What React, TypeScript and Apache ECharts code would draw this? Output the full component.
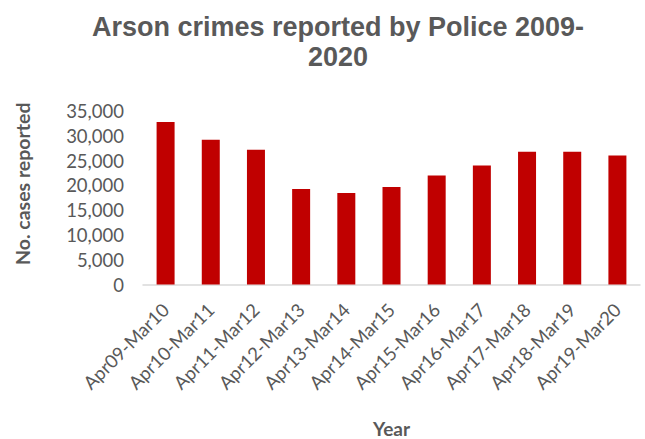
import React, { useEffect, useRef } from "react";
import * as echarts from "echarts";

const categories = [
  "Apr09-Mar10", "Apr10-Mar11", "Apr11-Mar12", "Apr12-Mar13", "Apr13-Mar14", "Apr14-Mar15",
  "Apr15-Mar16", "Apr16-Mar17", "Apr17-Mar18", "Apr18-Mar19", "Apr19-Mar20",
];
const cases = [32800, 29200, 27200, 19250, 18450, 19650, 22000, 24000, 26800, 26800, 26000];
const titleText = "Arson crimes reported by Police 2009-\n2020";
const yAxisTitle = "No. cases reported";
const xAxisTitle = "Year";

export default function App() {
  const ref = useRef<HTMLDivElement>(null);
  useEffect(() => {
    const chart = echarts.init(ref.current!, null, { renderer: "svg" });
    const grey = "#595959";
    const font = "Lato, 'Open Sans', sans-serif";
    chart.setOption({
      animation: false,
      backgroundColor: "#ffffff",
      title: {
        text: titleText,
        left: 333,
        textAlign: "center",
        top: 7,
        padding: 5,
        textStyle: {
          color: grey,
          fontFamily: "'Liberation Sans', Arial, sans-serif",
          fontWeight: "bold",
          fontSize: 27,
          lineHeight: 30,
        },
      },
      grid: { left: 143, right: 5, top: 111, bottom: 154.5, outerBoundsMode: "none", containLabel: false },
      xAxis: {
        type: "category",
        data: categories,
        name: xAxisTitle,
        nameLocation: "middle",
        nameGap: 134,
        nameTextStyle: { color: grey, fontFamily: font, fontWeight: "bold", fontSize: 19 },
        axisLine: { lineStyle: { color: "#d9d9d9", width: 1.5 } },
        axisTick: { show: false },
        axisLabel: { rotate: 45, color: grey, fontFamily: font, fontSize: 18.5, margin: 22, interval: 0 },
      },
      yAxis: {
        type: "value",
        min: 0,
        max: 35000,
        interval: 5000,
        name: yAxisTitle,
        nameLocation: "middle",
        nameGap: 111,
        nameRotate: 90,
        nameTextStyle: {
          color: grey,
          fontFamily: font,
          fontWeight: "bold",
          fontSize: 19.5,
          padding: [0, 0, 0, 28],
        },
        splitLine: { show: false },
        axisLine: { show: false },
        axisTick: { show: false },
        axisLabel: {
          color: grey,
          fontFamily: font,
          fontSize: 18.5,
          margin: 19,
          formatter: (v: number) => v.toLocaleString("en-US"),
        },
      },
      series: [
        {
          type: "bar",
          data: cases,
          barWidth: 18,
          itemStyle: { color: "#c00000" },
        },
      ],
    });
    return () => chart.dispose();
  }, []);
  return (
    <div
      ref={ref}
      style={{ position: "fixed", left: 0, top: 0, width: 645, height: 439 }}
    />
  );
}
